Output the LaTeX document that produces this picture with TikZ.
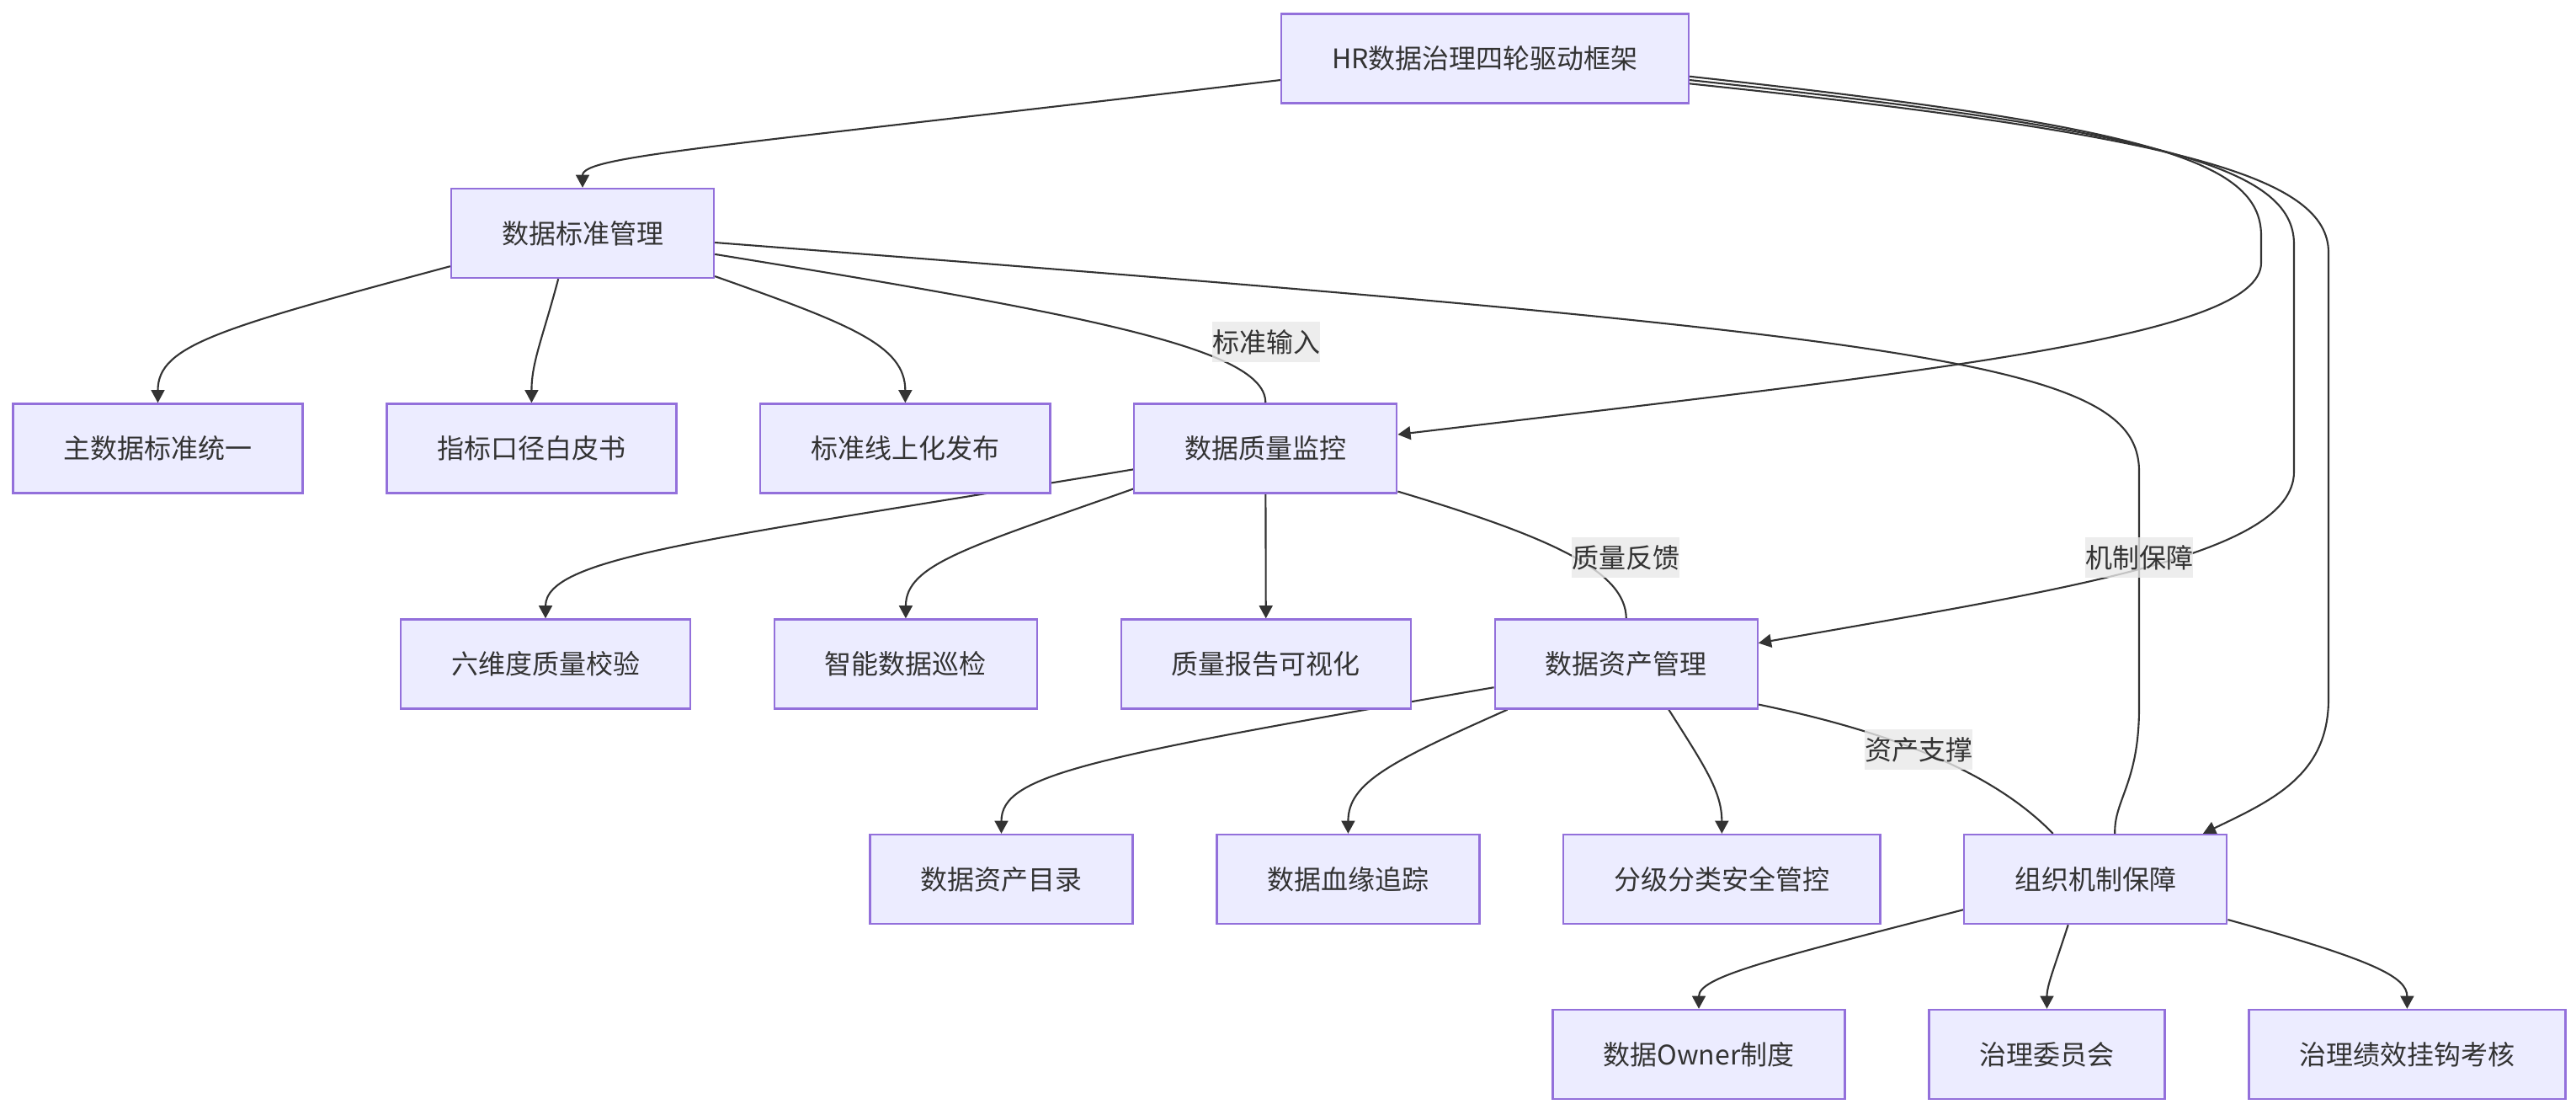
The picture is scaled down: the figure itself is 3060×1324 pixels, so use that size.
\documentclass[tikz,border=0pt]{standalone}
\usepackage{fontspec}
\setmainfont{Noto Sans CJK SC}
\usepackage{tikz}
\usetikzlibrary{arrows.meta,positioning,backgrounds}
\definecolor{boxfill}{HTML}{ECECFF}
\definecolor{boxline}{HTML}{9370DB}
\definecolor{edgeline}{HTML}{333333}
\definecolor{labelfill}{HTML}{E8E8E8}

\begin{document}
\begin{tikzpicture}[
  x=0.01cm, y=-0.01cm,
  every node/.style={font=\fontsize{9.1}{11}\selectfont, text=edgeline},
  block/.style={draw=boxline, line width=0.65pt, fill=boxfill, minimum height=1.06cm, inner xsep=0.6cm, inner ysep=0pt},
  elabel/.style={fill=labelfill, fill opacity=0.8, text opacity=1, inner xsep=0pt, inner ysep=0pt, minimum height=0.48cm},
  link/.style={draw=edgeline, line width=0.6pt},
  arrow/.style={link, -{Triangle[length=4.3pt, width=4.5pt]}},
  node distance=0.975cm
]
\useasboundingbox (0,0) rectangle (3060,1324);

% top
\node[block] (root) at (1764,69.5) {HR数据治理四轮驱动框架};
\node[block] (std) at (692,277) {数据标准管理};

% row 2
\node[block] (mdm) at (187.5,532.5) {主数据标准统一};
\node[block, right=of mdm] (caliber) {指标口径白皮书};
\node[block, right=of caliber] (online) {标准线上化发布};
\node[block, right=of online] (dq) {数据质量监控};

% row 3
\node[block] (sixdim) at (648,788.5) {六维度质量校验};
\node[block, right=of sixdim] (patrol) {智能数据巡检};
\node[block, right=of patrol] (report) {质量报告可视化};
\node[block, right=of report] (asset) {数据资产管理};

% row 4
\node[block] (catalog) at (1189.5,1044) {数据资产目录};
\node[block, right=of catalog] (lineage) {数据血缘追踪};
\node[block, right=of lineage] (secure) {分级分类安全管控};
\node[block, right=of secure] (org) {组织机制保障};

% row 5
\node[block] (owner) at (2018,1252) {数据Owner制度};
\node[block, right=of owner] (committee) {治理委员会};
\node[block, right=of committee] (kpi) {治理绩效挂钩考核};

% edge labels
\node[elabel] (lstd) at (1504,406) {标准输入};
\node[elabel] (lqual) at (1931,662) {质量反馈};
\node[elabel] (lasset) at (2279,890) {资产支撑};
\node[elabel] (lorg) at (2541,662) {机制保障};

\begin{scope}[on background layer]
% from the root
\draw[arrow] (root.186) .. controls (850,175) and (692,185) .. (std.north);
\draw[arrow] (root.-5) .. controls (2550,150) and (2686,190) .. (2686,280) -- (2686,312) .. controls (2686,400) and (2300,440) .. (dq.6);
\draw[arrow] (root.-6) .. controls (2570,155) and (2725,200) .. (2725,290) -- (2725,560) .. controls (2725,660) and (2450,700) .. (asset.9);
\draw[arrow] (root.-7) .. controls (2590,160) and (2766,210) .. (2766,300) -- (2766,830) .. controls (2766,920) and (2700,950) .. (org.23);

% children
\foreach \a/\cx/\cy/\dy/\b in {
  std.194/260/390/410/mdm, std.242/645/400/430/caliber, std.-18/1010/385/410/online,
  dq.189/850/640/660/sixdim, dq.197/1150/650/670/patrol,
  asset.190/1290/900/920/catalog, asset.201/1650/905/930/lineage, asset.-47/2025/910/940/secure,
  org.193/2100/1140/1160/owner, org.239/2440/1150/1170/committee, org.-17/2820/1140/1160/kpi}
  \draw[arrow] (\a) .. controls (\cx,\cy) and (\b.north |- 0,\dy) .. (\b.north);
\draw[arrow] (dq) -- (report);

% labelled links
\draw[link] (std.-9) .. controls (1300,375) and (1504,415) .. (dq.north);
\draw[link] (dq.-18) .. controls (1850,640) and (1931,680) .. (asset.north);
\draw[link] (asset.-17) .. controls (2300,880) and (2390,940) .. (org.133);
\draw[link] (std.-4) .. controls (2300,400) and (2541,430) .. (2541,560) -- (2541,840) .. controls (2541,930) and (2511,950) .. (org.67);
\end{scope}
\end{tikzpicture}
\end{document}
